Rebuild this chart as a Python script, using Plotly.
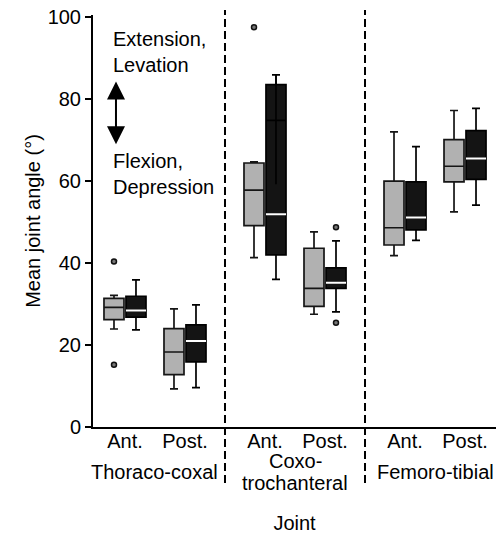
import plotly.graph_objects as go

# ---------------- data ----------------
groups = ["Thoraco-coxal", "Coxo-<br>trochanteral", "Femoro-tibial"]
sides = ["Ant.", "Post."]
y_ticks = [0, 20, 40, 60, 80, 100]

# grey series (order: TC Ant, TC Post, CT Ant, CT Post, FT Ant, FT Post)
grey_lowerfence = [23.9, 9.3, 41.3, 27.5, 41.8, 52.5]
grey_q1 = [26.2, 12.8, 49.1, 29.4, 44.4, 59.8]
grey_median = [29.2, 18.3, 57.8, 33.8, 48.6, 63.6]
grey_q3 = [31.4, 24.0, 64.4, 43.6, 60.0, 70.1]
grey_upperfence = [32.1, 28.8, 64.7, 47.6, 72.0, 77.2]
grey_outliers = [[40.4, 15.2], [], [97.5], [], [], []]

# black series
black_lowerfence = [23.7, 9.6, 36.0, 28.1, 45.5, 54.1]
black_q1 = [26.8, 15.9, 42.0, 33.8, 48.1, 60.4]
black_median = [28.4, 21.0, 51.9, 35.2, 51.1, 65.5]
black_q3 = [31.9, 24.9, 83.5, 38.8, 59.8, 72.3]
black_upperfence = [35.9, 29.8, 85.9, 45.4, 68.4, 77.7]
black_outliers = [[], [], [], [48.7, 25.4], [], []]

# extra inner line visible in the black Coxo-trochanteral Ant. box
extra_index = 2
extra_level = 74.8
extra_low = 59.2
extra_high = 85.9

# ---------------- layout helpers ----------------
GROUP_STEP = 7 / 3
positions = [g * GROUP_STEP + s for g in range(len(groups)) for s in range(len(sides))]
tick_text = [s for _ in groups for s in sides]
group_centers = [g * GROUP_STEP + 0.5 for g in range(len(groups))]
separators = [(g * GROUP_STEP + 1 + (g + 1) * GROUP_STEP) / 2 for g in range(len(groups) - 1)]
X_RANGE = [-0.533, 6.183]
Y_RANGE = [0, 100.5]

FONT = "Liberation Sans, Arial, sans-serif"
FS = 20
GREY_FILL = "#b1b1b1"
BLACK_FILL = "#141414"
GROUP_LABEL_Y = -0.110      # paper units
GROUP_LINE_GAP = 0.054      # paper units between wrapped lines

fig = go.Figure()


def series_box(lf, q1, med, q3, uf, outliers, fill, line_color, group):
    # boxes holding sample points first, so Plotly reads the sample array as 2-D
    order = sorted(range(len(positions)), key=lambda i: len(outliers[i]) == 0)
    pick = lambda arr: [arr[i] for i in order]
    return go.Box(
        x=pick(positions), y=pick(outliers),
        q1=pick(q1), median=pick(med), q3=pick(q3),
        lowerfence=pick(lf), upperfence=pick(uf),
        fillcolor=fill, line=dict(color=line_color, width=1.7),
        boxpoints="outliers", pointpos=0, jitter=0, whiskerwidth=0.4,
        marker=dict(symbol="circle", size=5, color="#777777",
                    line=dict(color="#111111", width=1.5)),
        offsetgroup=group, alignmentgroup="all",
        hoverinfo="skip", showlegend=False)


fig.add_trace(series_box(grey_lowerfence, grey_q1, grey_median, grey_q3,
                         grey_upperfence, grey_outliers, GREY_FILL, "#151515", "G"))
fig.add_trace(series_box(black_lowerfence, black_q1, black_median, black_q3,
                         black_upperfence, black_outliers, BLACK_FILL, "#000000", "B"))

# extra inner black line (horizontal + vertical)
fig.add_trace(go.Box(
    x=[positions[extra_index]],
    q1=[extra_level], median=[extra_level], q3=[extra_level],
    lowerfence=[extra_low], upperfence=[extra_high],
    fillcolor="rgba(0,0,0,0)", line=dict(color="#000000", width=1.6),
    boxpoints=False, whiskerwidth=0, offsetgroup="B", alignmentgroup="all",
    hoverinfo="skip", showlegend=False))

# white median lines of the black boxes
fig.add_trace(go.Box(
    x=positions,
    q1=black_median, median=black_median, q3=black_median,
    lowerfence=black_median, upperfence=black_median,
    fillcolor="rgba(0,0,0,0)", line=dict(color="#ffffff", width=2),
    boxpoints=False, whiskerwidth=0, offsetgroup="B", alignmentgroup="all",
    hoverinfo="skip", showlegend=False))


def xp(v):
    return (v - X_RANGE[0]) / (X_RANGE[1] - X_RANGE[0])


shapes = []
for s in separators:
    shapes.append(dict(type="line", xref="paper", yref="paper",
                       x0=xp(s), x1=xp(s), y0=-0.136, y1=1.012,
                       line=dict(color="black", width=2, dash="8px,4px")))

annotations = []
for gc, name in zip(group_centers, groups):
    lines = name.split("<br>")
    n = len(lines)
    for k, line in enumerate(lines):
        annotations.append(dict(
            x=gc, y=GROUP_LABEL_Y - (k - (n - 1) / 2) * GROUP_LINE_GAP,
            xref="x", yref="paper", text=line,
            showarrow=False, yanchor="middle", xanchor="center",
            font=dict(size=FS, family=FONT, color="black")))

annotations += [
    dict(x=-0.235, y=91.5, xref="x", yref="y", text="Extension,<br>Levation",
         showarrow=False, xanchor="left", yanchor="middle", align="left",
         font=dict(size=FS, family=FONT, color="black")),
    dict(x=-0.235, y=61.7, xref="x", yref="y", text="Flexion,<br>Depression",
         showarrow=False, xanchor="left", yanchor="middle", align="left",
         font=dict(size=FS, family=FONT, color="black")),
    dict(x=-0.15, y=84.3, xref="x", yref="y", ax=-0.15, ay=68.6,
         axref="x", ayref="y", text="", showarrow=True,
         arrowhead=2, arrowside="end+start", arrowsize=1.8, arrowwidth=2,
         arrowcolor="black"),
]

fig.update_layout(
    width=496, height=535,
    margin=dict(l=93, r=0, t=15, b=108),
    paper_bgcolor="white", plot_bgcolor="white",
    font=dict(family=FONT, size=FS, color="black"),
    boxmode="group", boxgap=0.267, boxgroupgap=0.09,
    shapes=shapes, annotations=annotations,
    xaxis=dict(range=X_RANGE, showline=True, linecolor="black", linewidth=2,
               tickmode="array", tickvals=positions, ticktext=tick_text,
               ticks="", ticklabelstandoff=-5,
               showgrid=False, zeroline=False,
               title=dict(text="Joint", standoff=65, font=dict(size=FS))),
    # boundary ticks between Ant. and Post. in each joint group
    xaxis2=dict(range=X_RANGE, overlaying="x", anchor="y", side="bottom",
                tickmode="array", tickvals=group_centers,
                ticktext=["" for _ in group_centers],
                ticks="outside", ticklen=5, tickwidth=1.5, tickcolor="black",
                showline=False, showgrid=False, zeroline=False),
    yaxis=dict(range=Y_RANGE, showline=True, linecolor="black", linewidth=2,
               tickmode="array", tickvals=y_ticks,
               ticks="outside", ticklen=6, tickwidth=1.5, tickcolor="black",
               showgrid=False, zeroline=False,
               title=dict(text="Mean joint angle (°)", standoff=2, font=dict(size=FS))),
)

fig.write_html("out.html")
